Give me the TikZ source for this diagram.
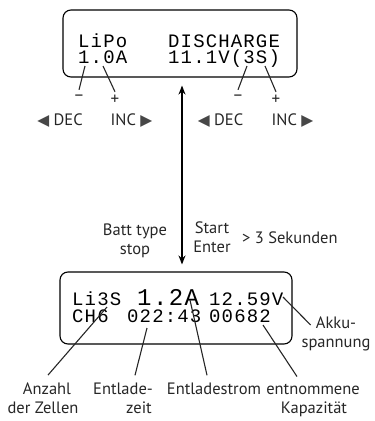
\documentclass[tikz,border=0pt]{standalone}
\usepackage{fontspec}
\setmainfont{PT Sans}
\newfontfamily\lcdfont[LetterSpace=6]{Liberation Mono}
\newfontfamily\symfont{DejaVu Sans}
\usepackage{tikz}
\usetikzlibrary{arrows.meta, positioning, calc}
\definecolor{inkgray}{HTML}{262626}
\definecolor{trigray}{HTML}{474747}
\newcommand{\lefttri}{{\symfont\fontsize{15.5}{15.5}\selectfont\color{trigray}\char"25C0}}
\newcommand{\righttri}{{\symfont\fontsize{15.5}{15.5}\selectfont\color{trigray}\char"25B6}}

\begin{document}
\begin{tikzpicture}[x=1pt, y=-1pt,
  lcd/.style={draw=black, line width=1.1pt, rounded corners=8pt},
  lcdtext/.style={font=\lcdfont\fontsize{19}{19}\selectfont, inner sep=0pt, anchor=base west, text height=13pt, text depth=0pt},
  caption/.style={font=\fontsize{16.5}{19}\selectfont, text=inkgray, anchor=base, inner ysep=7pt, inner xsep=2pt},
  sign/.style={font=\fontsize{17}{19}\selectfont, text=inkgray, inner sep=0pt, minimum height=16pt},
  pointer/.style={draw=inkgray, line width=1.1pt},
  biarrow/.style={{Stealth[length=9pt, width=7pt]}-{Stealth[length=9pt, width=7pt]}, line width=1.4pt}]
  \useasboundingbox (0,0) rectangle (375,421);

  % upper display
  \node[lcd, minimum width=234pt, minimum height=67pt] (topbox) at (180,43.5) {};
  \node[lcdtext] (type) at (78,47) {LiPo};
  \node[lcdtext] (mode) at (168,47) {DISCHARGE};
  \node[lcdtext] (amps) at (78,63) {1.0A};
  \node[lcdtext] (volts) at (168,63) {11.1V(3S)};

  \coordinate (ampsdec) at (85,66);
  \coordinate (ampsinc) at (103,66);
  \coordinate (voltsdec) at (247,66);
  \coordinate (voltsinc) at (265,66);
  \node[sign] (minusa) at (79,98) {–};
  \node[sign] (plusa) at (115,100) {+};
  \node[sign] (minusb) at (238,98) {–};
  \node[sign] (plusb) at (276,100) {+};
  \draw[pointer] (ampsdec) -- (minusa.north);
  \draw[pointer] (ampsinc) -- (plusa.north);
  \draw[pointer] (voltsdec) -- (minusb.north);
  \draw[pointer] (voltsinc) -- (plusb.north);

  \node[caption] (deca) at (60,125) {\lefttri\ DEC};
  \node[caption] (inca) at (131.5,125) {INC \righttri};
  \node[caption] (decb) at (220.5,125) {\lefttri\ DEC};
  \node[caption] (incb) at (292.5,125) {INC \righttri};

  % lower display
  \node[lcd, minimum width=232pt, minimum height=72pt] (lcdbox) at (176,308) {};
  \node[lcdtext] (cellsval) at (72,305) {Li3S};
  \node[lcdtext, font=\lcdfont\fontsize{24}{24}\selectfont, text height=16pt] (curval) at (137,305) {1.2A};
  \node[lcdtext] (voltval) at (209,305) {12.59V};
  \node[lcdtext] (chan) at (72,322) {CH6};
  \node[lcdtext] (timeval) at (127,322) {022:43};
  \node[lcdtext] (capval) at (209,322) {00682};

  \draw[biarrow, shorten <=8pt, shorten >=7pt] ([xshift=2pt]topbox.south) -- ([xshift=6pt]lcdbox.north);

  \node[caption] (batt) at (135,235) {Batt type};
  \node[caption] (stop) at (135,254) {stop};
  \node[caption] (start) at (212,233) {Start};
  \node[caption] (enter) at (212,252) {Enter};
  \node[caption, anchor=base west] (hold) at (240,243) {> 3 Sekunden};

  \coordinate (cellspt) at (107,307);
  \coordinate (timept) at (147,328);
  \coordinate (curpt) at (190,300);
  \coordinate (cappt) at (263,325);
  \coordinate (voltpt) at (283,297);

  \node[caption] (anzahl) at (47,394) {Anzahl};
  \node[caption] (zellen) at (43,413) {der Zellen};
  \node[caption] (zeit) at (123,394) {Entlade-};
  \node[caption] (zeitb) at (139,413) {zeit};
  \node[caption] (strom) at (214,394) {Entladestrom};
  \node[caption] (kap) at (313,394) {entnommene};
  \node[caption] (kapb) at (314,413) {Kapazität};
  \node[caption] (akku) at (336,328) {Akku-};
  \node[caption] (akkub) at (336,347) {spannung};

  \draw[pointer] (cellspt) -- ([xshift=1pt]anzahl.north);
  \draw[pointer] (timept) -- ([xshift=12pt]zeit.north);
  \draw[pointer] (curpt) -- ([xshift=-7pt]strom.north);
  \draw[pointer] (cappt) -- ([xshift=-16pt]kap.north);
  \draw[pointer] (voltpt) -- ([shift={(-3pt,3pt)}]akku.base west);
\end{tikzpicture}
\end{document}
